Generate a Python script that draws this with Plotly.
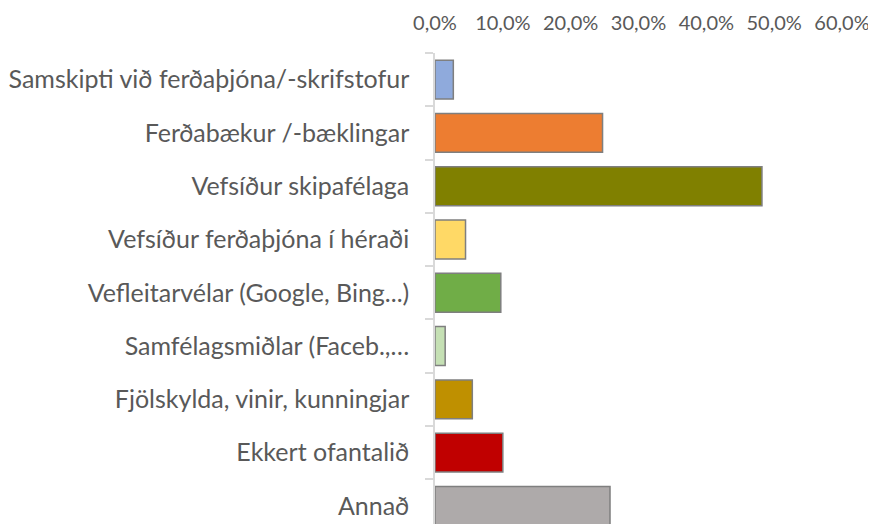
import plotly.graph_objects as go

categories = [
    "Samskipti við ferðaþjóna/-skrifstofur",
    "Ferðabækur /-bæklingar",
    "Vefsíður skipafélaga",
    "Vefsíður ferðaþjóna í héraði",
    "Vefleitarvélar (Google, Bing...)",
    "Samfélagsmiðlar (Faceb.,…",
    "Fjölskylda, vinir, kunningjar",
    "Ekkert ofantalið",
    "Annað",
]
values = [0.027, 0.247, 0.482, 0.045, 0.097, 0.015, 0.055, 0.100, 0.258]
colors = ["#8faadc", "#ed7d31", "#808000", "#ffd966", "#70ad47",
          "#c5e0b4", "#bf9000", "#c00000", "#aeaaaa"]
x_ticks = [0, 0.1, 0.2, 0.3, 0.4, 0.5, 0.6]

fig = go.Figure(go.Bar(
    x=values, y=categories, orientation="h",
    marker=dict(color=colors, line=dict(color="#7f7f7f", width=1.5)),
    width=0.73,
))

# page body has an 8px margin, so the figure is offset by 8px
fig.update_layout(
    width=868, height=516,
    margin=dict(l=427, r=34, t=45, b=0, autoexpand=False),
    paper_bgcolor="white", plot_bgcolor="white",
    separators=",.",
    showlegend=False,
    font=dict(family="Lato", color="#595959", size=24),
)
fig.update_xaxes(
    side="top", range=[0, 0.6], tickvals=x_ticks, tickformat=".1%",
    showgrid=False, zeroline=False, showline=False, ticks="",
    tickfont=dict(size=20, color="#595959"), ticklabelstandoff=18,
    automargin=False,
)
fig.update_yaxes(
    type="category", range=[8.34, -0.5],
    showline=True, linecolor="#d9d9d9", linewidth=1.5,
    ticks="outside", ticklen=8, tickcolor="#d9d9d9", tickwidth=1.5,
    tickson="boundaries", showgrid=False, automargin=False,
    tickfont=dict(size=25, color="#595959"), ticklabelstandoff=19,
)

fig.write_html("out.html")
